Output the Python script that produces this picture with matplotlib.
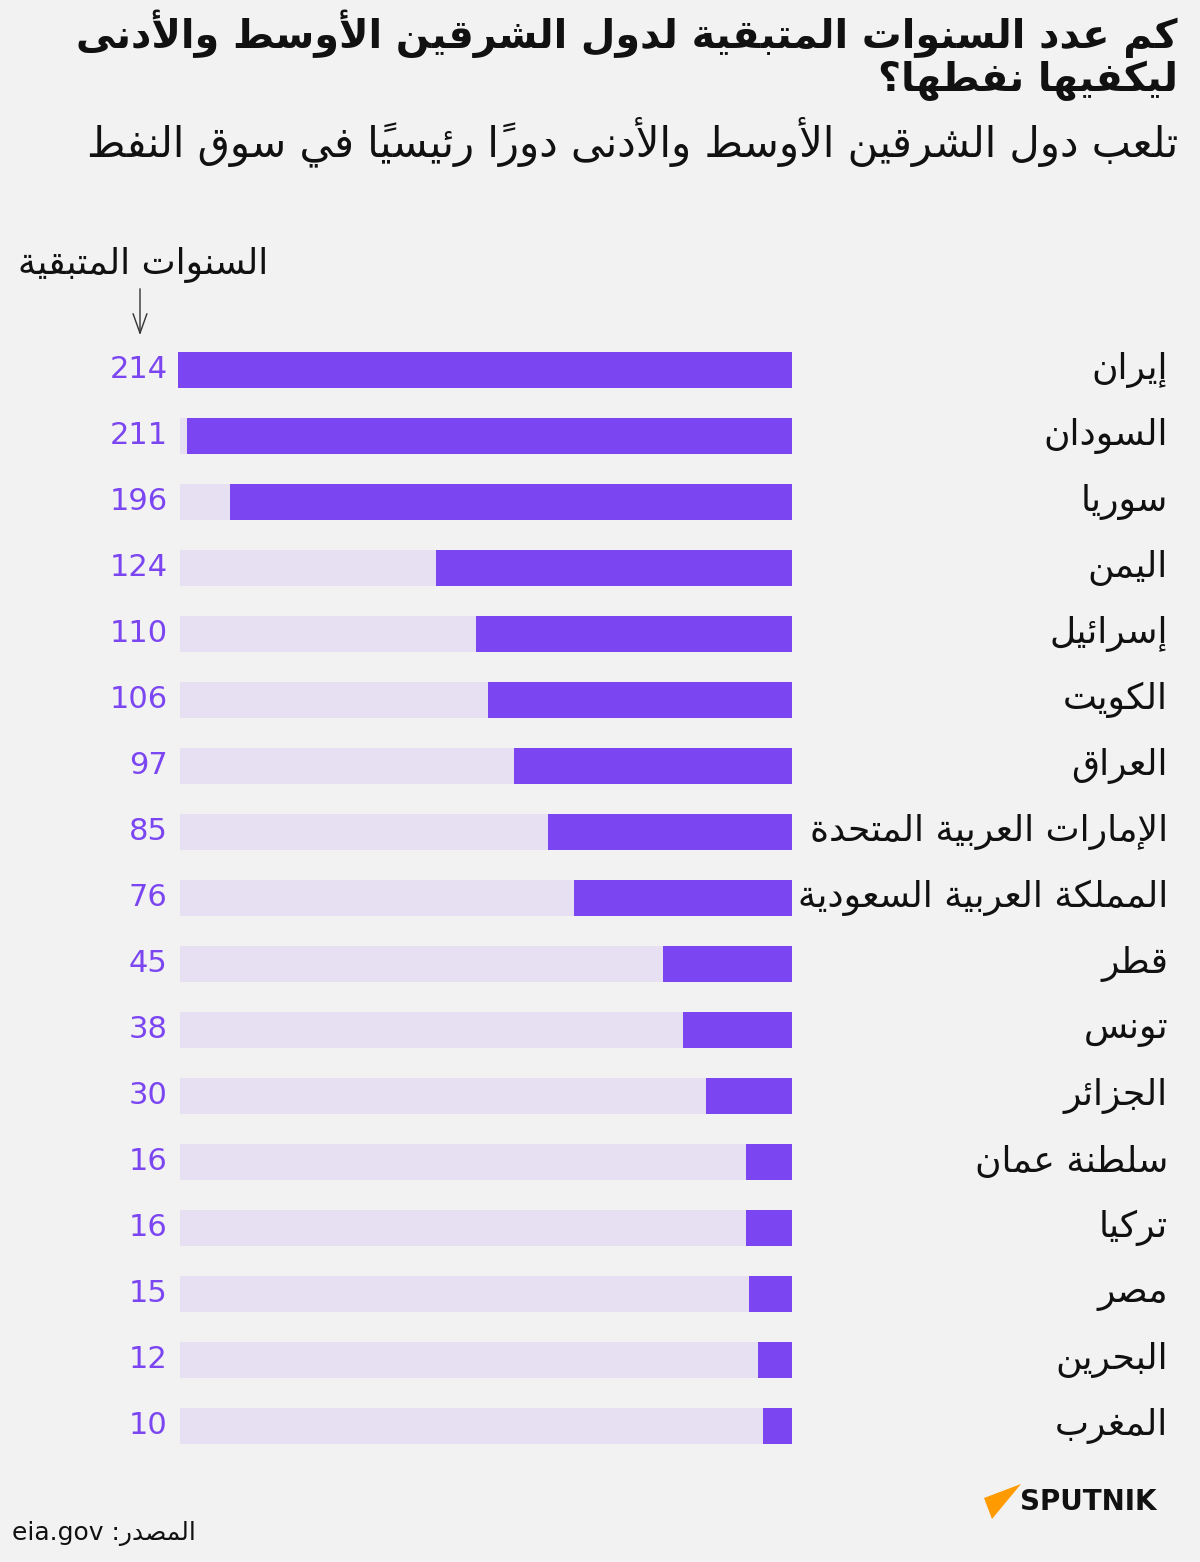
import matplotlib
matplotlib.use("Agg")
import matplotlib.pyplot as plt
from matplotlib.patches import Polygon, FancyArrowPatch
from matplotlib.transforms import blended_transform_factory

# ---------------- data ----------------
countries = ["إيران", "السودان", "سوريا", "اليمن", "إسرائيل", "الكويت", "العراق",
             "الإمارات العربية المتحدة", "المملكة العربية السعودية", "قطر", "تونس",
             "الجزائر", "سلطنة عمان", "تركيا", "مصر", "البحرين", "المغرب"]
years_left = [214, 211, 196, 124, 110, 106, 97, 85, 76, 45, 38, 30, 16, 16, 15, 12, 10]
background_max = 213.3

title_lines = ["كم عدد السنوات المتبقية لدول الشرقين الأوسط والأدنى", "ليكفيها نفطها؟"]
subtitle = "تلعب دول الشرقين الأوسط والأدنى دوراً رئيسياً في سوق النفط"
axis_note = "السنوات المتبقية"
source_label = "المصدر:"
source_site = "eia.gov"

# ---------------- minimal Arabic shaping ----------------
DUAL = {'ئ': 0xFE89, 'ب': 0xFE8F, 'ت': 0xFE95, 'ث': 0xFE99, 'ج': 0xFE9D, 'ح': 0xFEA1,
        'خ': 0xFEA5, 'س': 0xFEB1, 'ش': 0xFEB5, 'ص': 0xFEB9, 'ض': 0xFEBD, 'ط': 0xFEC1,
        'ظ': 0xFEC5, 'ع': 0xFEC9, 'غ': 0xFECD, 'ف': 0xFED1, 'ق': 0xFED5, 'ك': 0xFED9,
        'ل': 0xFEDD, 'م': 0xFEE1, 'ن': 0xFEE5, 'ه': 0xFEE9, 'ي': 0xFEF1}
RIGHT = {'آ': 0xFE81, 'أ': 0xFE83, 'ؤ': 0xFE85, 'إ': 0xFE87, 'ا': 0xFE8D, 'ة': 0xFE93,
         'د': 0xFEA9, 'ذ': 0xFEAB, 'ر': 0xFEAD, 'ز': 0xFEAF, 'و': 0xFEED, 'ى': 0xFEEF}
LAMALEF = {'آ': 0xFEF5, 'أ': 0xFEF7, 'إ': 0xFEF9, 'ا': 0xFEFB}
ISOLATED_ONLY = {'ء': 0xFE80}


def shape(text):
    # clusters: [kind, char, marks]; kind in 'C' (char) / 'LA' (lam-alef)
    clusters = []
    for ch in text:
        if 0x064B <= ord(ch) <= 0x0652 and clusters:
            clusters[-1][2] += ch
        else:
            clusters.append(['C', ch, ""])
    merged = []
    i = 0
    while i < len(clusters):
        c = clusters[i]
        if c[1] == 'ل' and i + 1 < len(clusters) and clusters[i + 1][1] in LAMALEF:
            merged.append(['LA', clusters[i + 1][1], c[2] + clusters[i + 1][2]])
            i += 2
        else:
            merged.append(c)
            i += 1

    def jtype(k):
        if k < 0 or k >= len(merged):
            return 'U'
        kind, ch, _ = merged[k]
        if kind == 'LA':
            return 'R'
        if ch in DUAL:
            return 'D'
        if ch in RIGHT:
            return 'R'
        return 'U'

    out = []
    for k, (kind, ch, marks) in enumerate(merged):
        t = jtype(k)
        prev = t in ('D', 'R') and jtype(k - 1) == 'D'
        nxt = t == 'D' and jtype(k + 1) in ('D', 'R')
        if kind == 'LA':
            g = chr(LAMALEF[ch] + (1 if prev else 0))
        elif t == 'D':
            base = DUAL[ch]
            g = chr(base + (3 if prev and nxt else 1 if prev else 2 if nxt else 0))
        elif t == 'R':
            g = chr(RIGHT[ch] + (1 if prev else 0))
        elif ch in ISOLATED_ONLY:
            g = chr(ISOLATED_ONLY[ch])
        else:
            g = ch
        out.append(g + marks)
    return "".join(reversed(out))


# ---------------- style ----------------
BG = "#F2F2F2"
PURPLE = "#7B46F1"
LIGHT = "#E7E0F3"
plt.rcParams['font.family'] = ["DejaVu Sans"]

W, H = 1200, 1562
fig = plt.figure(figsize=(W / 100, H / 100), dpi=100, facecolor=BG)

# bar axes: x = 0 at px 792, x = 214 at px 178; rows centered 370..1426 step 66
x_left_px, x_right_px = 178, 792
top_px, bot_px = 337, 1459
ax = fig.add_axes([x_left_px / W, 1 - bot_px / H, (x_right_px - x_left_px) / W, (bot_px - top_px) / H])
ax.set_facecolor("none")
ypos = list(range(len(countries)))
ax.barh(ypos, [background_max] * len(countries), height=0.55, color=LIGHT, zorder=1)
ax.barh(ypos, years_left, height=0.55, color=PURPLE, zorder=2)
ax.set_xlim(214, 0)
ax.set_ylim(len(countries) - 0.5, -0.5)
ax.axis("off")

trans = blended_transform_factory(ax.transAxes, ax.transData)
for y, (name, v) in zip(ypos, zip(countries, years_left)):
    ax.text(-0.017, y, str(v), transform=trans, ha="right", va="center",
            fontsize=22, color=PURPLE)
    ax.text(1.6125, y, shape(name), transform=trans, ha="right", va="center",
            fontsize=26, color="#111111")

# title & subtitle
fig.text(1178 / W, 1 - 34 / H, shape(title_lines[0]), ha="right", va="center",
         fontsize=28.5, fontweight="bold", color="#111111")
fig.text(1178 / W, 1 - 81 / H, shape(title_lines[1]), ha="right", va="center",
         fontsize=28.5, fontweight="bold", color="#111111")
fig.text(1178 / W, 1 - 142 / H, shape(subtitle), ha="right", va="center",
         fontsize=30, color="#111111")

# axis note with arrow
fig.text(143 / W, 1 - 265 / H, shape(axis_note), ha="center", va="center",
         fontsize=26, color="#111111")
fig.add_artist(FancyArrowPatch(
    (140 / W, 1 - 286 / H), (140 / W, 1 - 338 / H), transform=fig.transFigure,
    arrowstyle="->,head_length=14,head_width=5", mutation_scale=1, lw=1, color="#333333"))

# source
fig.text(12 / W, 1 - 1533 / H, source_site + " " + shape(source_label), ha="left", va="center",
         fontsize=18, color="#111111")

# logo
fig.add_artist(Polygon([(984 / W, 1 - 1498 / H), (1021 / W, 1 - 1484 / H), (992 / W, 1 - 1519 / H)],
                       closed=True, transform=fig.transFigure, facecolor="#FF9A00", edgecolor="none"))
fig.text(1020 / W, 1 - 1502 / H, "SPUTNIK", ha="left", va="center", fontsize=20,
         fontweight="bold", color="#111111")

fig.savefig("out.png", dpi=100, facecolor=BG)
